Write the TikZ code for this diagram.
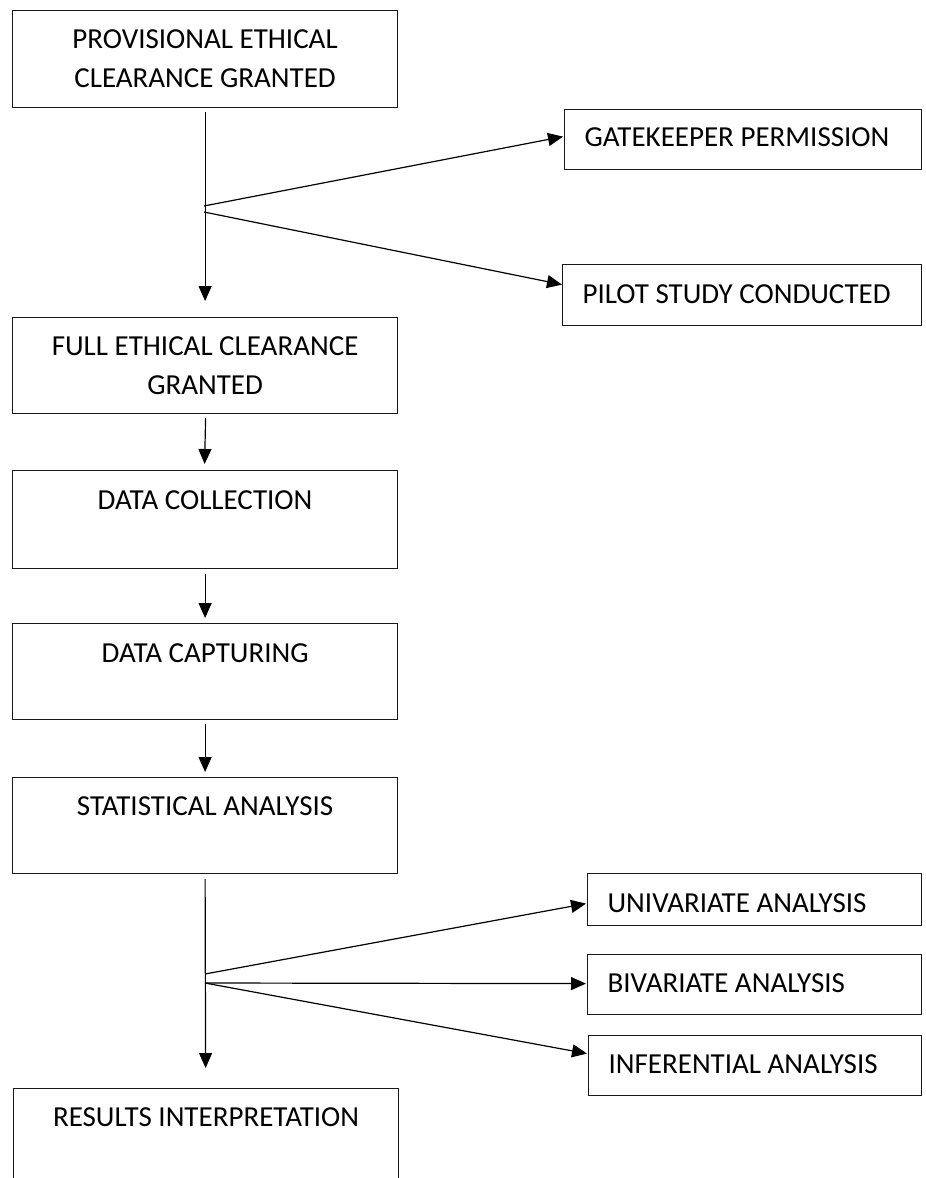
\documentclass[tikz,border=0pt]{standalone}
\usepackage{fontspec}
\setmainfont{Carlito}
\usetikzlibrary{arrows.meta}
\newcommand\myfs{\fontsize{29}{39}\selectfont}
\tikzset{
  boxbase/.style={draw=black!90, line width=1.2pt, inner ysep=0pt, anchor=north west, font=\myfs},
  lbox/.style={boxbase, inner xsep=0pt, minimum width=385pt, align=center},
  rbox/.style={boxbase, inner xsep=20pt},
  conn/.style={line width=1.2pt, -{Triangle[length=15pt,width=13pt]}}
}
\begin{document}
\begin{tikzpicture}[x=1pt,y=-1pt]
\useasboundingbox (0,0) rectangle (926,1178);
\clip (0,0) rectangle (926,1178);
\fill[white] (0,0) rectangle (926,1178);

% left column
\node[lbox, minimum height=97pt] (prov) at (12,10) {PROVISIONAL ETHICAL\\CLEARANCE GRANTED};
\node[lbox, minimum height=96pt] (full) at (12,317) {FULL ETHICAL CLEARANCE\\GRANTED};
\node[lbox, text height=39pt, text depth=59pt] (coll) at (12,470) {DATA COLLECTION};
\node[lbox, text height=39pt, text depth=57pt] (capt) at (12,623) {DATA CAPTURING};
\node[lbox, text height=38pt, text depth=58pt] (stat) at (12,777) {STATISTICAL ANALYSIS};
\node[lbox, text height=38pt, text depth=100pt] (res) at (13,1088) {RESULTS INTERPRETATION};

% right column
\node[rbox, text height=37pt, text depth=23pt] (gate) at (564,109) {\makebox[317pt][l]{GATEKEEPER PERMISSION}};
\node[rbox, text height=39pt, text depth=22pt] (pilot) at (562,264) {\makebox[319pt][l]{PILOT STUDY CONDUCTED}};
\node[rbox, text height=39pt, text depth=13pt] (univ) at (587,873) {\makebox[294pt][l]{UNIVARIATE ANALYSIS}};
\node[rbox, text height=38pt, text depth=22pt] (biv) at (587,954) {\makebox[294pt][l]{BIVARIATE ANALYSIS}};
\node[rbox, text height=38pt, text depth=22pt] (inf) at (588,1035) {\makebox[293pt][l]{INFERENTIAL ANALYSIS}};

% branch points
\coordinate (b1) at (204,206);
\coordinate (b2) at (204,212);
\coordinate (b3) at (205,974);
\coordinate (b4) at (205,983);

% vertical flow
\draw[conn] ([yshift=-4pt]prov.south) -- ([yshift=16pt]full.north);
\draw[conn] ([xshift=0.5pt,yshift=-4pt]full.south) -- ([xshift=-0.5pt,yshift=6pt]coll.north);
\draw[conn] ([yshift=-5pt]coll.south) -- ([yshift=5pt]capt.north);
\draw[conn] ([yshift=-4pt]capt.south) -- ([yshift=5pt]stat.north);
\draw[conn] ([yshift=-5pt]stat.south) -- ([xshift=-0.5pt,yshift=20pt]res.north);

% side branches
\draw[conn] (b1) -- ([xshift=-1pt,yshift=3pt]gate.west);
\draw[conn] (b2) -- ([yshift=10.5pt]pilot.west);
\draw[conn] (b3) -- ([xshift=-1pt,yshift=-4pt]univ.west);
\draw[conn] (b4) -- ([xshift=-1pt,yshift=1pt]biv.west);
\draw[conn] (b4) -- ([xshift=-1pt,yshift=12pt]inf.west);
\end{tikzpicture}
\end{document}
